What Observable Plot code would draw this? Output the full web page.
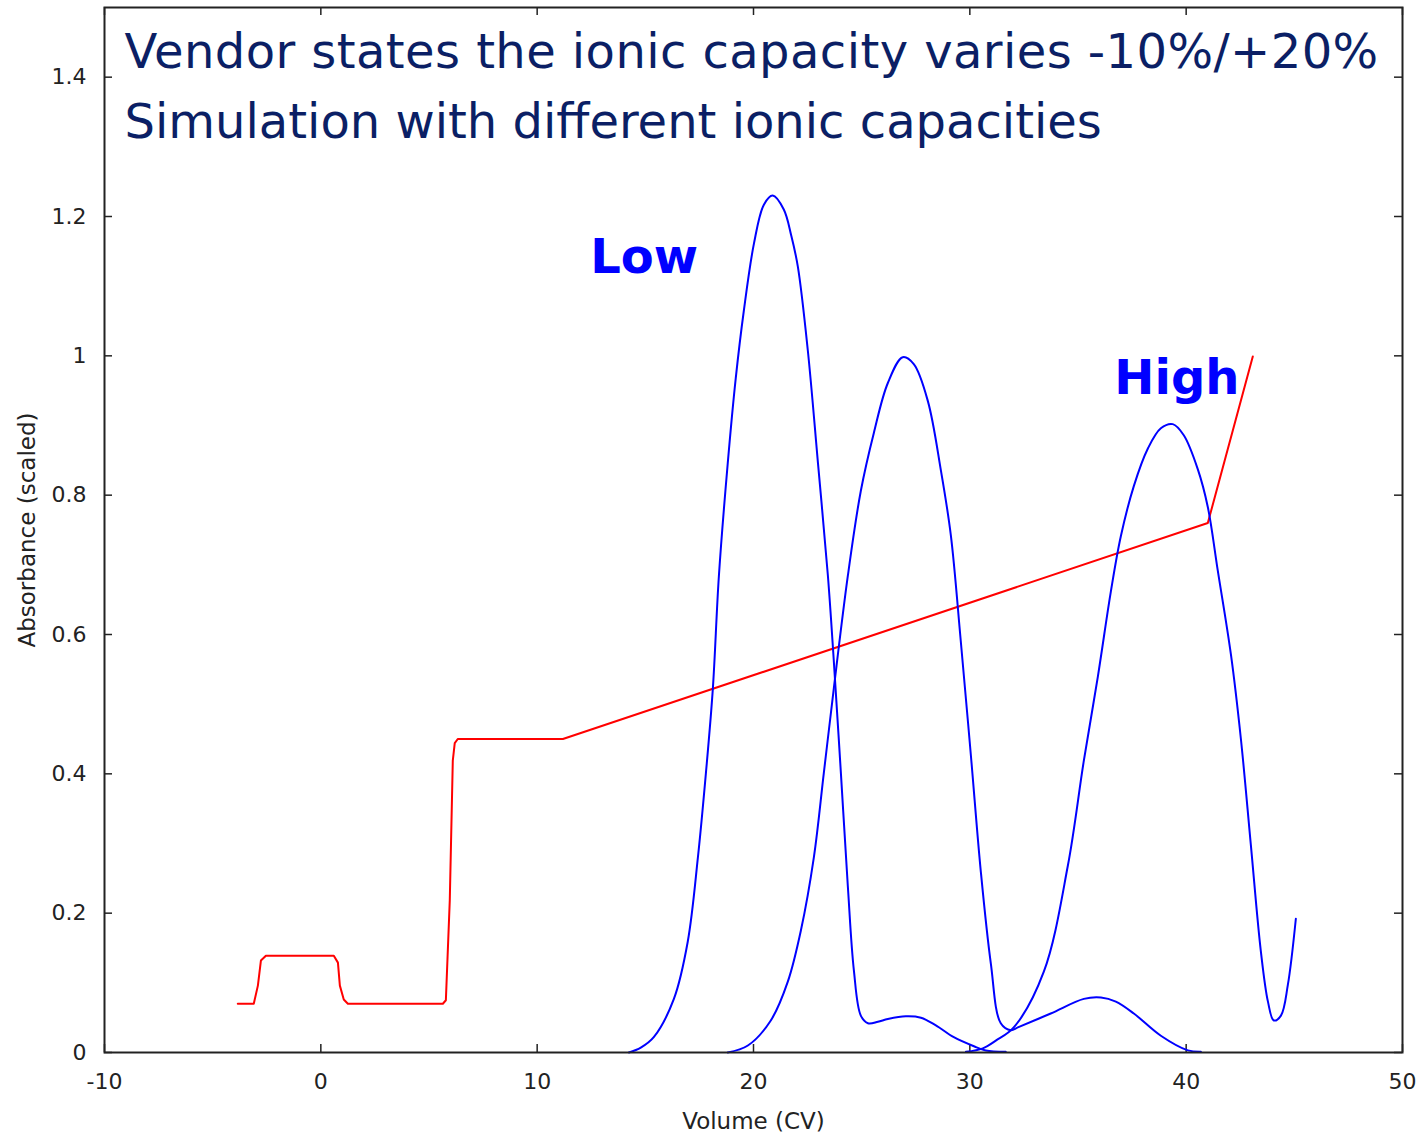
<!DOCTYPE html>
<html>
<head>
<meta charset="utf-8">
<script src="https://cdn.jsdelivr.net/npm/d3@7"></script>
<script src="https://cdn.jsdelivr.net/npm/@observablehq/plot@0.6"></script>
<style>
  html, body { margin: 0; padding: 0; background: #fff; }
  #chart svg { display: block; }
  .title1 { letter-spacing: 0.42px; }
</style>
</head>
<body>
<div id="chart"></div>
<script>
// ---- data ----
const xTicks = [-10, 0, 10, 20, 30, 40, 50];
const yTicks = [0, 0.2, 0.4, 0.6, 0.8, 1, 1.2, 1.4];

const titleLines = [
  "Vendor states the ionic capacity varies -10%/+20%",
  "Simulation with different ionic capacities"
];
const xLabel = "Volume (CV)";
const yLabel = "Absorbance (scaled)";

// conductivity / gradient trace (red)
const gradient = [
  [-3.84, 0.070], [-3.10, 0.070], [-2.91, 0.096], [-2.77, 0.132], [-2.54, 0.139],
  [0.60, 0.139], [0.79, 0.129], [0.88, 0.096], [1.06, 0.076], [1.25, 0.070],
  [5.64, 0.070], [5.78, 0.075], [5.96, 0.218], [6.10, 0.419], [6.19, 0.444],
  [6.33, 0.450], [11.19, 0.450], [41.00, 0.760], [43.08, 0.999]
];

// absorbance, low ionic capacity
const lowCap = [
  [14.24, 0.000], [14.79, 0.007], [15.39, 0.022], [16.32, 0.077], [16.96, 0.159],
  [17.43, 0.280], [17.80, 0.401], [18.12, 0.522], [18.40, 0.684], [18.81, 0.846],
  [19.18, 0.968], [19.55, 1.064], [20.02, 1.161], [20.48, 1.217], [20.89, 1.230],
  [21.40, 1.210], [21.75, 1.172], [22.05, 1.128], [22.51, 1.008], [22.98, 0.846],
  [23.44, 0.684], [23.71, 0.563], [24.04, 0.401], [24.36, 0.239], [24.64, 0.118],
  [24.96, 0.053], [25.29, 0.042], [25.75, 0.044], [26.21, 0.048], [27.04, 0.052],
  [27.74, 0.050], [28.43, 0.039], [29.26, 0.022], [30.19, 0.009], [30.74, 0.003],
  [31.66, 0.001]
];

// absorbance, nominal ionic capacity
const nominalCap = [
  [18.81, 0.000], [19.74, 0.010], [20.80, 0.046], [21.59, 0.102], [22.19, 0.175],
  [22.79, 0.280], [23.25, 0.401], [23.71, 0.522], [24.36, 0.684], [24.96, 0.806],
  [25.56, 0.889], [26.21, 0.961], [26.90, 0.998], [27.41, 0.988], [28.06, 0.935],
  [28.66, 0.836], [29.12, 0.743], [29.58, 0.591], [30.05, 0.426], [30.51, 0.259],
  [30.97, 0.128], [31.43, 0.042], [31.90, 0.032], [32.22, 0.036], [33.74, 0.056],
  [35.27, 0.077], [36.06, 0.079], [36.75, 0.073], [37.58, 0.056], [38.83, 0.024],
  [40.08, 0.003], [40.68, 0.001]
];

// absorbance, high ionic capacity
const highCap = [
  [29.82, 0.001], [30.60, 0.006], [31.20, 0.017], [32.03, 0.036], [33.42, 0.116],
  [34.53, 0.268], [35.27, 0.419], [35.92, 0.540], [36.52, 0.662], [36.98, 0.741],
  [37.58, 0.813], [38.23, 0.867], [38.83, 0.896], [39.38, 0.902], [39.89, 0.886],
  [40.54, 0.837], [41.00, 0.783], [41.46, 0.692], [42.07, 0.571], [42.53, 0.450],
  [42.99, 0.298], [43.45, 0.146], [43.78, 0.073], [44.05, 0.046], [44.38, 0.053],
  [44.70, 0.097], [45.07, 0.192]
];

// in-plot labels
const labelNames = ["Low", "High"];
const labelX = [12.45, 36.68];
const labelY = [1.119, 0.945];

// ---- build ----
const W = 1423, H = 1136;
const mL = 104, mR = 21, mT = 7, mB = 84;
const innerW = W - mL - mR, innerH = H - mT - mB;

const toRows = (arr, s) => arr.map(([x, y]) => ({x, y, s}));
const blueRows = [
  ...toRows(lowCap, "low"),
  ...toRows(nominalCap, "nominal"),
  ...toRows(highCap, "high")
];
const redRows = toRows(gradient, "gradient");
const labels = labelNames.map((t, i) => ({t, x: labelX[i], y: labelY[i]}));
const yFmt = d3.format("~g");
const axisFont = "'DejaVu Sans', Verdana, sans-serif";

const chart = Plot.plot({
  width: W,
  height: H,
  marginLeft: mL,
  marginRight: mR,
  marginTop: mT,
  marginBottom: mB,
  style: {fontFamily: axisFont, background: "#fff", color: "#222"},
  x: {domain: [-10, 50]},
  y: {domain: [0, 1.5]},
  marks: [
    Plot.axisX(xTicks, {
      tickSize: 0, tickPadding: 21, fontSize: 22, tickFormat: d => String(d),
      label: null, fill: "#222"
    }),
    Plot.axisY(yTicks, {
      tickSize: 0, tickPadding: 18, fontSize: 22, tickFormat: yFmt,
      label: null, fill: "#222"
    }),
    // axis titles
    Plot.text([xLabel], {
      frameAnchor: "bottom", dy: 76, lineAnchor: "bottom", fontSize: 23, fill: "#222"
    }),
    Plot.text([yLabel], {
      frameAnchor: "left", dx: -86, rotate: -90, textAnchor: "middle", lineAnchor: "top",
      fontSize: 23, fill: "#222"
    }),
    // inward ticks on all four sides
    Plot.tickX(xTicks, {x: d => d, insetTop: innerH - 8, stroke: "#222", strokeWidth: 1.5}),
    Plot.tickX(xTicks, {x: d => d, insetBottom: innerH - 8, stroke: "#222", strokeWidth: 1.5}),
    Plot.tickY(yTicks, {y: d => d, insetRight: innerW - 8, stroke: "#222", strokeWidth: 1.5}),
    Plot.tickY(yTicks, {y: d => d, insetLeft: innerW - 8, stroke: "#222", strokeWidth: 1.5}),
    Plot.line(redRows, {x: "x", y: "y", stroke: "#ff0000", strokeWidth: 2}),
    Plot.line(blueRows, {x: "x", y: "y", z: "s", stroke: "#0000ff", strokeWidth: 2, curve: "catmull-rom"}),
    Plot.text(labels, {
      x: "x", y: "y", text: "t", fill: "#0000ff", fontSize: 48, fontWeight: "bold",
      fontFamily: axisFont, textAnchor: "start", lineAnchor: "bottom"
    }),
    Plot.text([titleLines[0]], {
      frameAnchor: "top-left", dx: 20, dy: 60, lineAnchor: "bottom",
      textAnchor: "start", fill: "#0b1f65", fontSize: 48, fontFamily: axisFont,
      className: "title1"
    }),
    Plot.text([titleLines[1]], {
      frameAnchor: "top-left", dx: 20, dy: 130, lineAnchor: "bottom",
      textAnchor: "start", fill: "#0b1f65", fontSize: 48, fontFamily: axisFont
    }),
    Plot.frame({stroke: "#222", strokeWidth: 2})
  ]
});

document.getElementById("chart").appendChild(chart);
</script>
</body>
</html>
